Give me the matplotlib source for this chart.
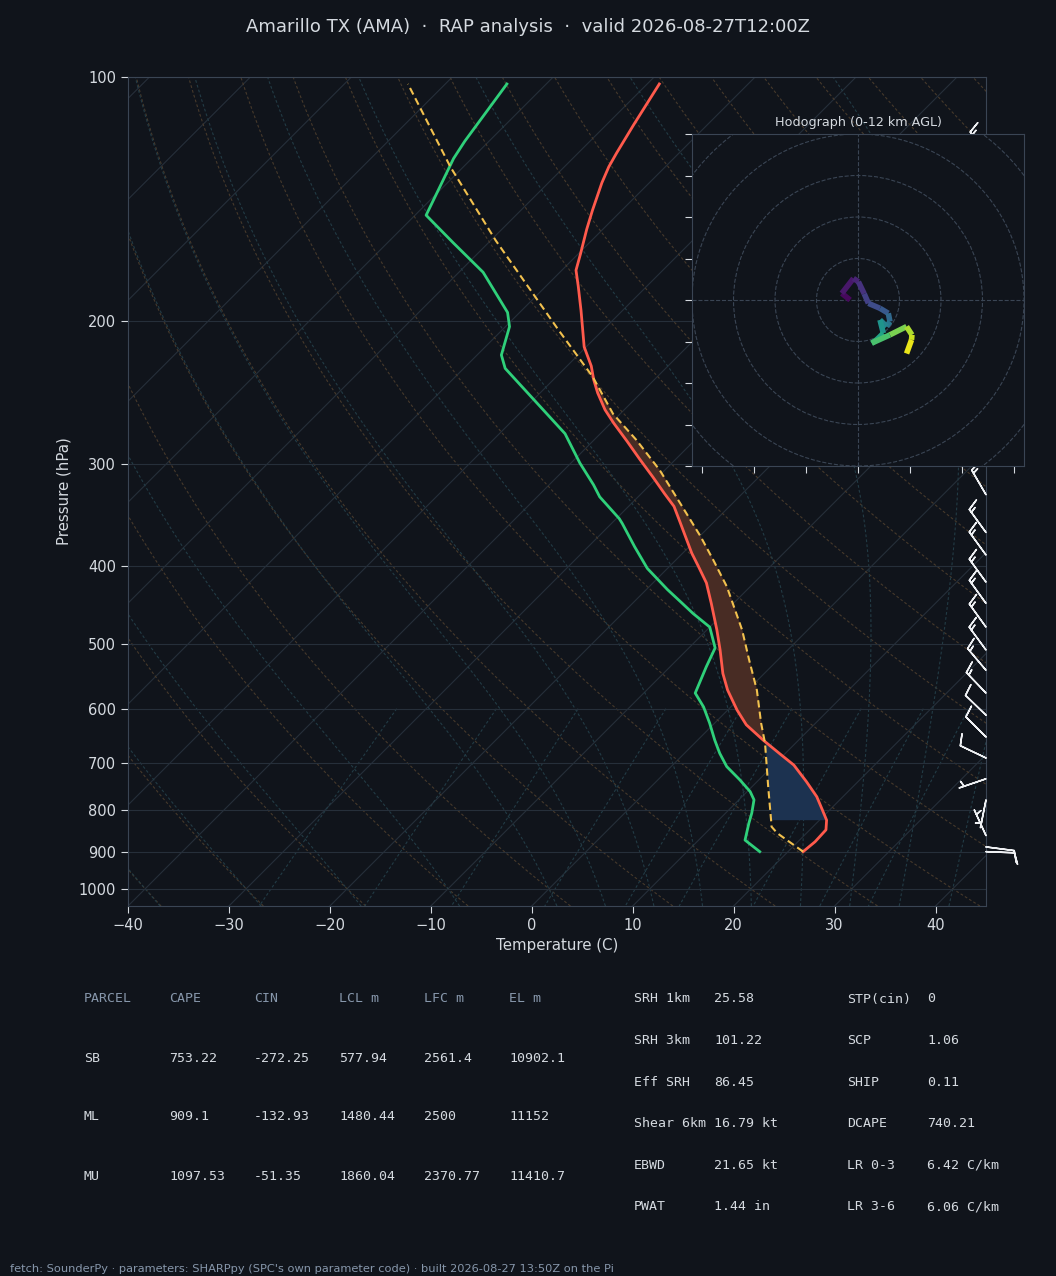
import numpy as np
import matplotlib
matplotlib.use('Agg')
import matplotlib.pyplot as plt
import matplotlib.transforms as mtransforms
from matplotlib.collections import LineCollection
from matplotlib.ticker import NullLocator

BG, EDGE, GRID = '#10141b', '#3a4554', '#262f3a'
TEXT, MUTED = '#d5dae0', '#8797ab'
RED, GREEN, GOLD = '#ff5a4c', '#2fd07a', '#f2c14e'
DRY, MOIST = '#46392b', '#223b45'
CAPE_FILL, CIN_FILL = '#482c24', '#1c3250'

# ── sounding ────────────────────────────────────────────────────────────
temp_p = [900, 875, 846, 823, 800, 770, 738, 704, 681, 656, 628, 602, 569, 543,
          508, 480, 445, 420, 401, 386, 368, 353, 338, 326, 311, 296, 281, 267,
          257, 245, 236, 227, 215, 194, 181, 173, 165, 154, 146, 135, 129, 124,
          114.5, 102]
temp_c = [21.5, 21.7, 21.6, 20.7, 19.3, 17.4, 14.9, 12.0, 9.4, 6.5, 3.3, 0.9, -2.0,
          -4.1, -6.7, -9.0, -12.2, -14.7, -17.1, -19.1, -21.4, -23.4, -25.5, -27.7,
          -30.5, -33.5, -36.6, -39.7, -41.9, -44.3, -46.0, -47.6, -50.2, -54.1,
          -56.8, -58.6, -59.8, -61.6, -62.9, -64.7, -65.6, -66.2, -67.3, -68.8]

dewp_p = [900, 871, 830, 807, 777, 759, 734, 707, 681, 656, 625, 597, 574, 533,
          505, 476, 458, 443, 428, 403, 379, 355, 350, 329, 318, 299, 275, 228.5,
          220, 203, 195, 174, 160, 148, 126, 120, 102]
dewp_c = [17.2, 14.6, 13.3, 12.6, 11.5, 10.3, 8.1, 5.5, 3.5, 1.7, -0.5, -2.7, -4.9,
          -6.4, -7.4, -10.0, -13.0, -15.4, -17.9, -22.0, -25.4, -28.9, -29.7, -33.8,
          -35.6, -39.1, -43.5, -55.9, -57.6, -59.6, -61.2, -67.6, -73.5, -78.9,
          -81.8, -82.4, -83.9]

parcel_p = [900, 854, 838.5, 823, 748.5, 662, 625, 569, 523, 480, 424.5, 393.5, 368,
            335, 305, 280, 260, 234, 205, 159, 129, 102]
parcel_c = [21.5, 17.1, 15.9, 15.2, 11.6, 7.0, 4.6, 0.9, -2.8, -6.5, -12.3, -16.3,
            -19.9, -25.2, -30.5, -35.8, -40.7, -46.4, -54.4, -69.5, -81.3, -93.7]
LCL_P = 822

# wind barbs (kt)
wind_p = [900, 888, 860, 777, 732, 690, 650, 611, 574, 538, 508, 476, 445, 419,
          388, 364, 327, 300, 275, 250, 225, 200, 180, 160, 142, 125]
wind_u = [-10, -10, 2.5, 1.0, 4.7, 9.0, 7.0, 8.0, 10.0, 9.3, 8.5, 8.3, 8.3, 8.5,
          8.5, 8.2, 7.2, 9, 10, 11, 12, 12, 11, 10, 9, 8]
wind_v = [0.4, 1.3, -5.5, 5.0, 1.6, -4.3, -7.0, -7.7, -10.5, -11.0, -11.6, -11.5,
          -11.5, -11.7, -11.7, -11.3, -12.4, -12, -11, -10, -11, -13, -14, -14, -13, -12]

# hodograph trace (kt) with height AGL (km)
hodo_u = [-1.9, -3.9, -1.1, 0.1, 1.5, 2.5, 5.3, 7.3, 7.7, 6.9, 5.3, 6.1, 4.5, 3.3,
          7.7, 11.7, 13.0, 12.9, 11.7]
hodo_v = [0.0, 1.6, 5.2, 4.4, 1.5, -0.8, -2.0, -3.2, -5.2, -6.4, -4.8, -8.0, -9.6,
          -10.4, -8.4, -6.4, -8.4, -9.6, -12.9]
hodo_z = [0.0, 0.5, 1.0, 1.4, 2.0, 2.5, 3.0, 3.6, 4.5, 5.0, 5.8, 6.6, 7.4, 8.1,
          9.0, 10.2, 10.8, 11.2, 12.0]

parcel_rows = [('SB', '753.22', '-272.25', '577.94', '2561.4', '10902.1'),
               ('ML', '909.1', '-132.93', '1480.44', '2500', '11152'),
               ('MU', '1097.53', '-51.35', '1860.04', '2370.77', '11410.7')]
parcel_cols = ['PARCEL', 'CAPE', 'CIN', 'LCL m', 'LFC m', 'EL m']
kin_labels = ['SRH 1km', 'SRH 3km', 'Eff SRH', 'Shear 6km', 'EBWD', 'PWAT']
kin_values = ['25.58', '101.22', '86.45', '16.79 kt', '21.65 kt', '1.44 in']
comp_labels = ['STP(cin)', 'SCP', 'SHIP', 'DCAPE', 'LR 0-3', 'LR 3-6']
comp_values = ['0', '1.06', '0.11', '740.21', '6.42 C/km', '6.06 C/km']


def moist_adiabat(t0_c, p_seq):
    Rd, Cp, Lv, eps = 287.04, 1005.7, 2.501e6, 0.622

    def dtdp(t, p):
        es = 6.112 * np.exp(17.67 * (t - 273.15) / (t - 29.65))
        rs = eps * es / (p - es)
        return (Rd * t + Lv * rs) / (Cp + Lv * Lv * rs * eps / (Rd * t * t)) / p

    out = [t0_c + 273.15]
    for p0, p1 in zip(p_seq[:-1], p_seq[1:]):
        t, h = out[-1], p1 - p0
        k1 = dtdp(t, p0)
        k2 = dtdp(t + h * k1 / 2, p0 + h / 2)
        k3 = dtdp(t + h * k2 / 2, p0 + h / 2)
        k4 = dtdp(t + h * k3, p1)
        out.append(t + h * (k1 + 2 * k2 + 2 * k3 + k4) / 6)
    return np.array(out) - 273.15


def on_grid(p_src, t_src, pg):
    return np.interp(np.log(pg), np.log(p_src)[::-1], np.array(t_src)[::-1])


fig = plt.figure(figsize=(10.56, 12.76), dpi=100, facecolor=BG)
pos = [128 / 1056, 370 / 1276, 858 / 1056, 829 / 1276]
ax = fig.add_axes(pos, facecolor=BG)
ax.set_yscale('log')
ax.set_xlim(-40, 45)
ax.set_ylim(1050, 100)
ax.set_autoscale_on(False)

# 45 degree skew in pixel space
f = 829 / 858
skew = (ax.transScale + ax.transLimits
        + mtransforms.Affine2D().skew(np.arctan(f), 0) + ax.transAxes)

# ── background lines ────────────────────────────────────────────────────
for t in range(-160, 50, 10):
    ax.plot([t, t], [1050, 100], transform=skew, color=GRID, lw=0.8, zorder=1)

dash = (0, (2.5, 2))
pl = np.geomspace(1050, 100, 120)
for th in np.arange(-40, 250, 10):
    ax.plot((th + 273.15) * (pl / 1000) ** 0.2857 - 273.15, pl, transform=skew,
            color=DRY, lw=0.8, ls=dash, zorder=1)

p_up = np.geomspace(1000, 100, 160)
p_dn = np.geomspace(1000, 1050, 6)
for t0 in list(range(-40, 0, 10)) + list(range(0, 46, 5)):
    tu = moist_adiabat(t0, p_up)
    td = moist_adiabat(t0, p_dn)
    ax.plot(np.r_[td[::-1], tu[1:]], np.r_[p_dn[::-1], p_up[1:]], transform=skew,
            color=MOIST, lw=0.8, ls=dash, zorder=1)

pm = np.linspace(600, 1050, 30)
for w in [0.4, 1, 2, 4, 7, 10, 16, 24, 32]:
    e = pm * w / (622 + w)
    ln = np.log(e / 6.112)
    ax.plot(243.5 * ln / (17.67 - ln), pm, transform=skew,
            color=MOIST, lw=0.8, ls=dash, zorder=1)

ax.yaxis.grid(True, color=GRID, lw=0.8)
ax.xaxis.grid(False)

# ── CAPE / CIN shading ─────────────────────────────────────────────────
pg = np.geomspace(900, 102, 500)
te, tp = on_grid(temp_p, temp_c, pg), on_grid(parcel_p, parcel_c, pg)
ax.fill_betweenx(pg, te, tp, where=(tp > te), interpolate=True, transform=skew,
                 color=CAPE_FILL, lw=0, zorder=2)
pc = np.geomspace(LCL_P, 500, 300)
te, tp = on_grid(temp_p, temp_c, pc), on_grid(parcel_p, parcel_c, pc)
ax.fill_betweenx(pc, te, tp, where=(tp < te), interpolate=True, transform=skew,
                 color=CIN_FILL, lw=0, zorder=2)

# ── profiles ───────────────────────────────────────────────────────────
ax.plot(temp_c, temp_p, transform=skew, color=RED, lw=2.0, zorder=4)
ax.plot(dewp_c, dewp_p, transform=skew, color=GREEN, lw=2.0, zorder=4)
ax.plot(parcel_c, parcel_p, transform=skew, color=GOLD, lw=1.5,
        ls=(0, (3.5, 2)), zorder=4)

bt = mtransforms.blended_transform_factory(ax.transAxes, ax.transData)
ax.barbs(np.ones(len(wind_p)), wind_p, wind_u, wind_v, transform=bt,
         length=6.4, color='#eef0f3', lw=1.1, clip_on=False, zorder=5)

ax.set_xlim(-40, 45)
ax.set_ylim(1050, 100)
ax.set_xticks(range(-40, 41, 10))
yt = list(range(100, 1001, 100))
ax.set_yticks(yt, labels=[str(v) for v in yt])
ax.yaxis.set_minor_locator(NullLocator())
ax.tick_params(colors=TEXT, labelsize=10.5, length=5, width=0.8)
for sp in ax.spines.values():
    sp.set_edgecolor(EDGE)
ax.set_xlabel('Temperature (C)', color=TEXT, fontsize=10.8)
ax.set_ylabel('Pressure (hPa)', color=TEXT, fontsize=10.8, labelpad=5)

# ── hodograph ──────────────────────────────────────────────────────────
axh = fig.add_axes([692 / 1056, 810 / 1276, 332 / 1056, 332 / 1276], facecolor=BG)
axh.set_xlim(-40, 40)
axh.set_ylim(-40, 40)
for r in (10, 20, 30, 40, 50):
    axh.add_patch(plt.Circle((0, 0), r, fill=False, ls='--', color=EDGE, lw=0.8))
axh.axhline(0, color=EDGE, ls='--', lw=0.8)
axh.axvline(0, color=EDGE, ls='--', lw=0.8)
pts = np.column_stack([hodo_u, hodo_v])
segs = np.stack([pts[:-1], pts[1:]], axis=1)
lc = LineCollection(segs, cmap='viridis', norm=plt.Normalize(0, 12), lw=4)
lc.set_array((np.array(hodo_z[:-1]) + np.array(hodo_z[1:])) / 2)
axh.add_collection(lc)
axh.set_xticks(np.arange(-37.5, 40, 12.5))
axh.set_yticks(range(-40, 41, 10))
axh.tick_params(labelleft=False, labelbottom=False, colors=TEXT, length=5, width=0.8)
for sp in axh.spines.values():
    sp.set_edgecolor(EDGE)
axh.set_title('Hodograph (0-12 km AGL)', color=TEXT, fontsize=9.2, pad=6)

# ── text ───────────────────────────────────────────────────────────────
fig.text(0.5, 1 - 27 / 1276,
         'Amarillo TX (AMA)  ·  RAP analysis  ·  valid 2026-08-27T12:00Z',
         ha='center', va='center', color=TEXT, fontsize=13)

mono = dict(family='DejaVu Sans Mono', fontsize=9.5, va='center')
col_x = [84, 169, 254, 339, 424, 509]
for x, c in zip(col_x, parcel_cols):
    fig.text(x / 1056, 1 - 999 / 1276, c, color=MUTED, **mono)
for i, row in enumerate(parcel_rows):
    y = 1 - (1058 + 59 * i) / 1276
    for x, c in zip(col_x, row):
        fig.text(x / 1056, y, c, color=TEXT, **mono)

for i in range(6):
    y = 1 - (999 + 41.6 * i) / 1276
    fig.text(634 / 1056, y, kin_labels[i], color=TEXT, **mono)
    fig.text(714 / 1056, y, kin_values[i], color=TEXT, **mono)
    fig.text(847 / 1056, y, comp_labels[i], color=TEXT, **mono)
    fig.text(927 / 1056, y, comp_values[i], color=TEXT, **mono)

fig.text(10 / 1056, 1 - 1269 / 1276,
         "fetch: SounderPy · parameters: SHARPpy (SPC's own parameter code) · "
         "built 2026-08-27 13:50Z on the Pi",
         ha='left', va='center', color=MUTED, fontsize=8.2)

fig.savefig('out.png', dpi=100, facecolor=BG)
